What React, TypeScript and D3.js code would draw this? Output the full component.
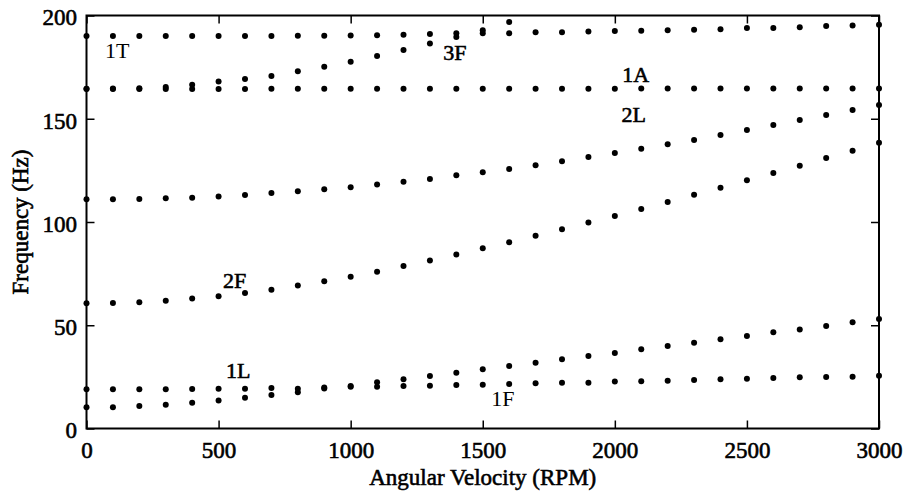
import React, { useEffect, useRef } from 'react';
import * as d3 from 'd3';

// angular velocity (RPM) at which every mode was computed
const rpm = [0, 100, 200, 300, 400, 500, 600, 700, 800, 900, 1000, 1100, 1200, 1300, 1400, 1500,
  1600, 1700, 1800, 1900, 2000, 2100, 2200, 2300, 2400, 2500, 2600, 2700, 2800, 2900, 3000];

// natural frequencies (Hz)
const mode1F = [10.3, 10.3, 10.9, 11.5, 12.5, 13.5, 14.9, 16.2, 17.6, 19.4, 20.2, 20.2, 20.6, 20.7, 21.1, 21.2,
  21.5, 21.9, 22.2, 22.2, 22.7, 22.9, 23.1, 23.5, 23.8, 24.1, 24.5, 24.8, 24.9, 25.1, 25.6];
const mode1L = [19.0, 19.0, 19.0, 19.0, 19.1, 19.3, 19.3, 19.6, 19.2, 19.8, 20.6, 22.4, 23.8, 25.4, 27.0, 28.7,
  30.3, 31.9, 33.5, 35.1, 36.6, 38.4, 40.0, 41.5, 43.2, 44.8, 46.6, 48.0, 49.6, 51.4, 53.0];
const mode2F = [60.6, 60.8, 61.1, 61.9, 62.9, 64.0, 65.6, 67.2, 69.2, 71.3, 73.5, 75.9, 78.7, 81.3, 84.3, 87.3,
  90.2, 93.4, 96.5, 99.7, 102.9, 106.3, 109.7, 113.2, 116.6, 120.2, 123.7, 127.3, 131.0, 134.5, 138.4];
const mode2L = [111.0, 111.0, 111.1, 111.5, 111.8, 112.4, 113.1, 114.0, 114.9, 115.8, 116.8, 118.2, 119.5, 120.8, 122.6, 124.1,
  125.7, 127.5, 129.4, 131.5, 133.4, 135.5, 137.6, 139.7, 142.1, 144.6, 147.0, 149.4, 151.8, 154.2, 156.6];
const mode1A = [164.4, 164.4, 164.4, 164.4, 164.4, 164.4, 164.4, 164.5, 164.5, 164.5, 164.5, 164.5, 164.5, 164.5, 164.5, 164.5,
  164.5, 164.5, 164.5, 164.5, 164.5, 164.6, 164.6, 164.6, 164.6, 164.6, 164.6, 164.6, 164.6, 164.6, 164.6];
const mode3F = [164.5, 164.6, 164.8, 165.4, 166.5, 168.0, 169.2, 170.7, 173.0, 175.2, 177.6, 180.4, 183.3, 186.5, 189.6, 192.9,
  196.9];
const mode1T = [190.1, 190.1, 190.1, 190.1, 190.1, 190.1, 190.1, 190.1, 190.2, 190.2, 190.3, 190.4, 190.7, 191.0, 191.4, 191.4,
  191.4, 191.9, 191.9, 192.2, 192.5, 192.6, 192.8, 193.1, 193.3, 193.9, 194.0, 194.3, 194.9, 195.2, 195.5];

const modes = [mode1F, mode1L, mode2F, mode2L, mode1A, mode3F, mode1T];

// mode labels, placed in data units (left edge / baseline)
const labelText = ['1T', '3F', '1A', '2L', '2F', '1L', '1F'];
const labelRpm = [70, 1350, 2028, 2025, 517, 528, 1532];
const labelHz = [179.4, 178.4, 167.8, 148.4, 68.0, 24.5, 10.9];

const xTicks = [0, 500, 1000, 1500, 2000, 2500, 3000];
const yTicks = [0, 50, 100, 150, 200];

const App = () => {
  const svgRef = useRef(null);

  useEffect(() => {
    const width = 904;
    const height = 494;
    const left = 86.5, right = 879, top = 15.5, bottom = 428.5;
    const font = "'Liberation Serif', 'Times New Roman', serif";

    const svg = d3.select(svgRef.current)
      .attr('width', width)
      .attr('height', height);
    svg.selectAll('*').remove();

    const x = d3.scaleLinear().domain([0, 3000]).range([left, right]);
    const y = d3.scaleLinear().domain([0, 200]).range([bottom, top]);

    // scanned-print look: regular serif with a thin outline
    const heavyText = (sel) => sel
      .attr('fill', '#000')
      .attr('stroke', '#000')
      .attr('stroke-width', 0.6)
      .attr('font-family', font)
      .attr('font-size', 23);

    // axes: ticks point inward on all four sides
    const styleAxis = (g) => {
      g.select('.domain').remove();
      g.selectAll('.tick line').attr('stroke', '#000').attr('stroke-width', 1.5);
      g.selectAll('.tick text').call(heavyText);
    };

    svg.append('g')
      .attr('transform', `translate(0, ${bottom})`)
      .call(d3.axisBottom(x).tickValues(xTicks).tickFormat(d3.format('d'))
        .tickSizeInner(-8).tickSizeOuter(0).tickPadding(13))
      .call(styleAxis);

    svg.append('g')
      .attr('transform', `translate(0, ${top})`)
      .call(d3.axisTop(x).tickValues(xTicks).tickSizeInner(-8).tickSizeOuter(0).tickFormat(() => ''))
      .call(styleAxis);

    const gl = svg.append('g')
      .attr('transform', `translate(${left}, 0)`)
      .call(d3.axisLeft(y).tickValues(yTicks).tickFormat(d3.format('d'))
        .tickSizeInner(-8).tickSizeOuter(0).tickPadding(9.5))
      .call(styleAxis);
    gl.selectAll('.tick text').attr('dy', '0.41em');

    svg.append('g')
      .attr('transform', `translate(${right}, 0)`)
      .call(d3.axisRight(y).tickValues(yTicks).tickSizeInner(-8).tickSizeOuter(0).tickFormat(() => ''))
      .call(styleAxis);

    // frame
    svg.append('rect')
      .attr('x', left)
      .attr('y', top)
      .attr('width', right - left)
      .attr('height', bottom - top)
      .attr('fill', 'none')
      .attr('stroke', '#000')
      .attr('stroke-width', 2);

    // points
    modes.forEach((vals) => {
      svg.append('g')
        .selectAll('circle')
        .data(vals)
        .join('circle')
        .attr('cx', (d, i) => x(rpm[i]))
        .attr('cy', (d) => y(d))
        .attr('r', 3)
        .attr('fill', '#000');
    });

    // mode labels
    svg.append('g')
      .selectAll('text')
      .data(labelText)
      .join('text')
      .attr('x', (d, i) => x(labelRpm[i]))
      .attr('y', (d, i) => y(labelHz[i]))
      .call(heavyText)
      .attr('font-size', 22)
      .attr('stroke-width', (d) => (d === '1T' || d === '1F' ? 0 : 0.6))
      .text((d) => d);

    // axis titles
    svg.append('text')
      .attr('x', (left + right) / 2)
      .attr('y', 485)
      .attr('text-anchor', 'middle')
      .call(heavyText)
      .text('Angular Velocity (RPM)');

    svg.append('text')
      .attr('transform', `translate(28, ${(top + bottom) / 2}) rotate(-90)`)
      .attr('text-anchor', 'middle')
      .call(heavyText)
      .text('Frequency (Hz)');
  }, []);

  return <svg ref={svgRef} style={{ position: 'absolute', left: 0, top: 0 }}></svg>;
};

export default App;
